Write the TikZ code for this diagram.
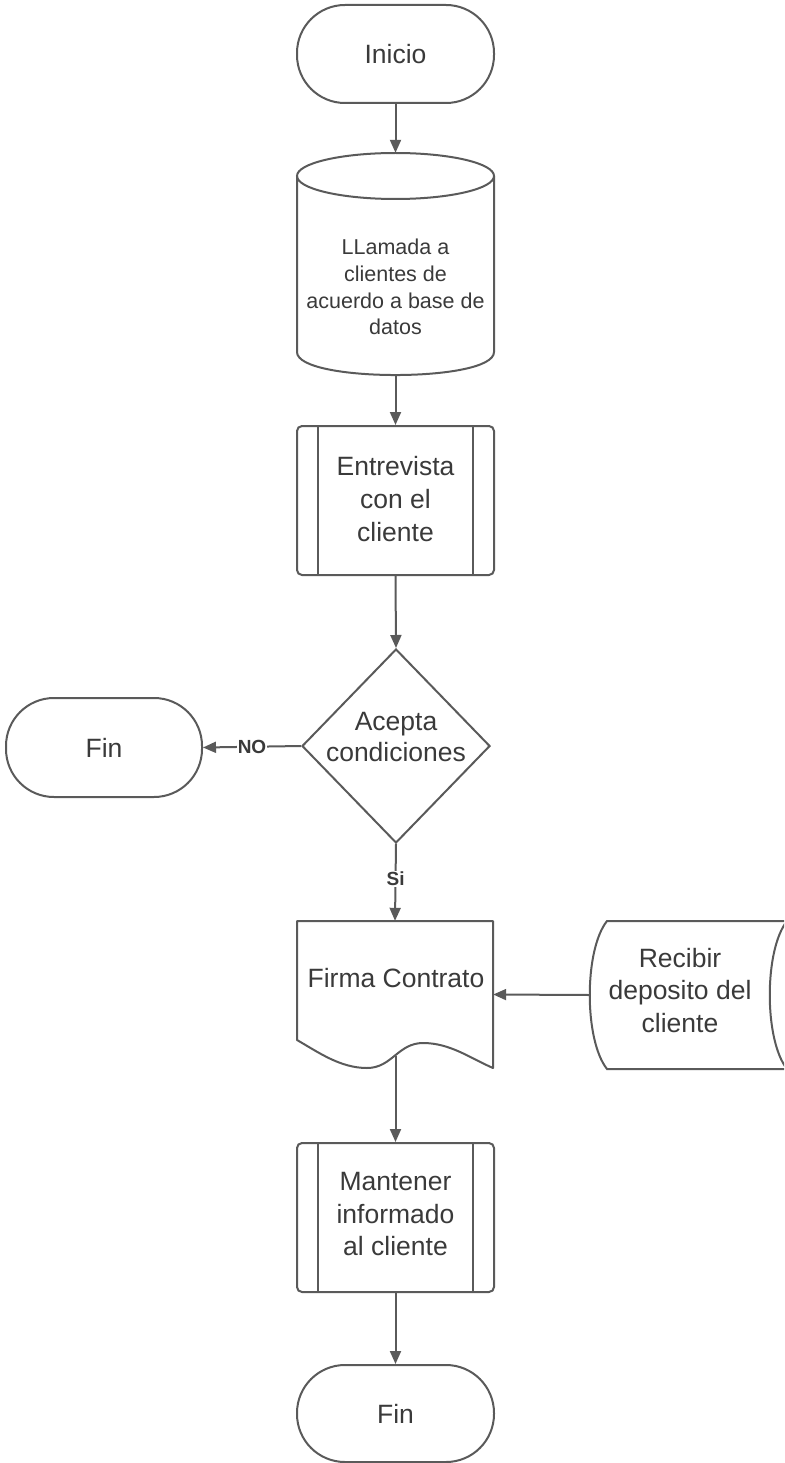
\documentclass[tikz,border=0pt]{standalone}
\usepackage{fontspec}
\setmainfont{Liberation Sans}
\usetikzlibrary{shapes.geometric,arrows.meta}
\definecolor{lc}{HTML}{5A5A5A}
\definecolor{tc}{HTML}{3A3A3A}
\begin{document}
\begin{tikzpicture}[x=1pt,y=-1pt,
  shapeline/.style={draw=lc, line width=2pt},
  term/.style={shapeline, rectangle, rounded corners=48pt, minimum width=197pt, minimum height=98pt, text=tc, font=\fontsize{26.5}{32}\selectfont},
  sub/.style={shapeline, rectangle, rounded corners=5pt, minimum width=197pt, minimum height=149pt},
  frame/.style={rectangle, inner sep=0pt},
  txt/.style={text=tc, align=center, font=\fontsize{26.5}{33}\selectfont},
  small/.style={text=tc, align=center, font=\fontsize{21.5}{26.7}\selectfont},
  lab/.style={text=tc, fill=white, inner sep=1pt, font=\bfseries\fontsize{19}{20}\selectfont},
  conn/.style={draw=lc, line width=2pt, -{Triangle[length=13pt,width=11pt]}},
]
\useasboundingbox (0,0) rectangle (784,1463);
\clip (0,0) rectangle (784,1463);

% Inicio
\node[term] (ini) at (395.5,54) {Inicio};

% database cylinder
\node[frame, minimum width=197pt, minimum height=222pt] (db) at (395.5,264) {};
\draw[shapeline] (297,176) -- (297,352) .. controls (297,382.7) and (494,382.7) .. (494,352) -- (494,176);
\draw[shapeline] (395.5,176) ellipse [x radius=98.5pt, y radius=23pt];
\node[small] at (395.5,287) {LLamada a\\clientes de\\acuerdo a base de\\datos};

% Entrevista
\node[sub] (ent) at (395.5,500.5) {};
\draw[shapeline] ([xshift=22pt]ent.north west) -- ([xshift=22pt]ent.south west);
\draw[shapeline] ([xshift=-22pt]ent.north east) -- ([xshift=-22pt]ent.south east);
\node[txt] at (395.5,499) {Entrevista\\con el\\cliente};

% decision
\node[diamond, shapeline, minimum width=188pt, minimum height=194pt, inner sep=0pt] (dec) at (396,746) {};
\node[txt, font=\fontsize{26.5}{31}\selectfont] at (396,737.5) {Acepta\\condiciones};

% Fin left
\node[term, minimum width=196pt, minimum height=99pt] (finl) at (104,747.5) {Fin};

% Firma Contrato (document)
\node[frame, minimum width=196pt, minimum height=147pt] (firma) at (395,994.5) {};
\draw[shapeline, line join=round] (297,921) -- (493,921) -- (493,1068)
  .. controls (470,1058) and (450,1043) .. (423,1043)
  .. controls (398,1043) and (392,1068) .. (367,1068)
  .. controls (340,1068) and (318,1052) .. (297,1040) -- cycle;
\coordinate (firmaout) at (395.5,1056);
\node[txt] at (396,978) {Firma Contrato};

% Recibir deposito (stored data)
\node[frame, minimum width=197pt, minimum height=148pt] (recv) at (688.5,995) {};
\draw[shapeline] (607,921) -- (787,921) .. controls (764,950) and (764,1040) .. (787,1069)
  -- (607,1069) .. controls (584,1040) and (584,950) .. (607,921) -- cycle;
\node[txt, font=\fontsize{26.5}{32.5}\selectfont] at (680,990.5) {Recibir\\deposito del\\cliente};

% Mantener
\node[sub] (man) at (395.5,1217.5) {};
\draw[shapeline] ([xshift=22pt]man.north west) -- ([xshift=22pt]man.south west);
\draw[shapeline] ([xshift=-22pt]man.north east) -- ([xshift=-22pt]man.south east);
\node[txt, font=\fontsize{26.5}{32.5}\selectfont] at (395.5,1214) {Mantener\\informado\\al cliente};

% Fin bottom
\node[term, minimum height=97pt] (finb) at (395.5,1413.5) {Fin};

% connectors
\draw[conn] (ini.south) -- (db.north);
\draw[conn] (db.south) -- (ent.north);
\draw[conn] (ent.south) -- (dec.north);
\draw[conn] (dec.west) -- node[lab]{NO} (finl.east);
\draw[conn] (dec.south) -- node[lab, pos=0.45]{Si} (firma.north);
\draw[conn] (recv.west) -- (firma.east);
\draw[conn] (firmaout) -- (man.north);
\draw[conn] (man.south) -- (finb.north);
\end{tikzpicture}
\end{document}
